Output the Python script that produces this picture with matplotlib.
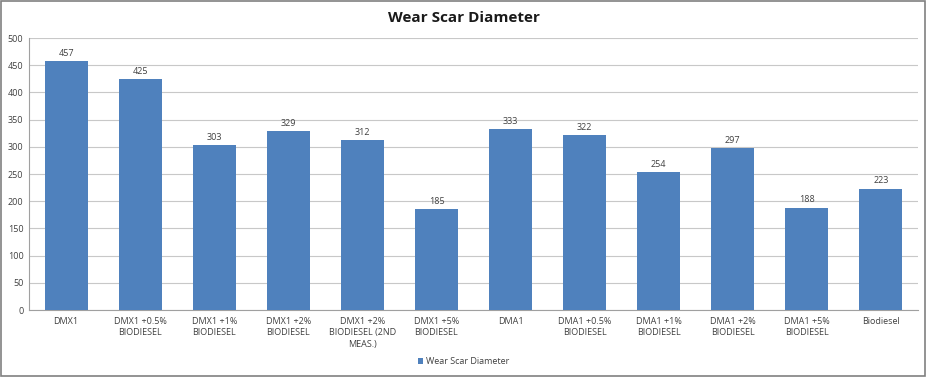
import matplotlib
matplotlib.use("Agg")
import matplotlib.pyplot as plt
from matplotlib.patches import Rectangle

categories = ["DMX1", "DMX1 +0.5%\nBIODIESEL", "DMX1 +1%\nBIODIESEL", "DMX1 +2%\nBIODIESEL",
              "DMX1 +2%\nBIODIESEL (2ND\nMEAS.)", "DMX1 +5%\nBIODIESEL", "DMA1",
              "DMA1 +0.5%\nBIODIESEL", "DMA1 +1%\nBIODIESEL", "DMA1 +2%\nBIODIESEL",
              "DMA1 +5%\nBIODIESEL", "Biodiesel"]
values = [457, 425, 303, 329, 312, 185, 333, 322, 254, 297, 188, 223]
yticks = list(range(0, 501, 50))

plt.rcParams['font.family'] = ['Open Sans', 'DejaVu Sans']
fig = plt.figure(figsize=(9.27, 3.77), dpi=100)
ax = fig.add_axes([29/927, 1-310/377, (918-29)/927, (310-38)/377])

x = list(range(len(categories)))
bars = ax.bar(x, values, width=0.58, color="#4F81BD", zorder=3, label="Wear Scar Diameter")
for xi, v in zip(x, values):
    ax.text(xi, v + 6, str(v), ha="center", va="bottom", fontsize=6.5, color="#404040")

ax.set_xlim(-0.5, len(categories) - 0.5)
ax.set_ylim(0, 500)
ax.set_yticks(yticks)
ax.set_yticklabels([str(t) for t in yticks], fontsize=6.5, color="#404040")
ax.set_xticks(x)
ax.set_xticklabels(categories, fontsize=6.5, color="#404040", linespacing=1.35)
ax.tick_params(axis="both", length=0, pad=4)
ax.tick_params(axis="x", pad=5)
ax.grid(axis="y", color="#C8C8C8", linewidth=0.8, zorder=0)
for s in ["top", "right"]:
    ax.spines[s].set_visible(False)
ax.spines["left"].set_color("#A0A0A0")
ax.spines["bottom"].set_color("#A0A0A0")
ax.spines["left"].set_linewidth(0.8)
ax.spines["bottom"].set_linewidth(0.8)

fig.text(0.5, 1 - 18/377, "Wear Scar Diameter", ha="center", va="center",
         fontsize=11, fontweight="bold", color="#1a1a1a")

leg = fig.legend(handles=[bars], labels=["Wear Scar Diameter"], loc="center",
                 bbox_to_anchor=(0.5, 1 - 362/377), frameon=False, fontsize=6.5,
                 handlelength=0.6, handleheight=0.6, handletextpad=0.3)
for t in leg.get_texts():
    t.set_color("#404040")

fig.patches.append(Rectangle((0.001, 0.002), 0.997, 0.995, transform=fig.transFigure,
                             fill=False, edgecolor="#808080", linewidth=1.2))
fig.savefig("out.png", dpi=100)
